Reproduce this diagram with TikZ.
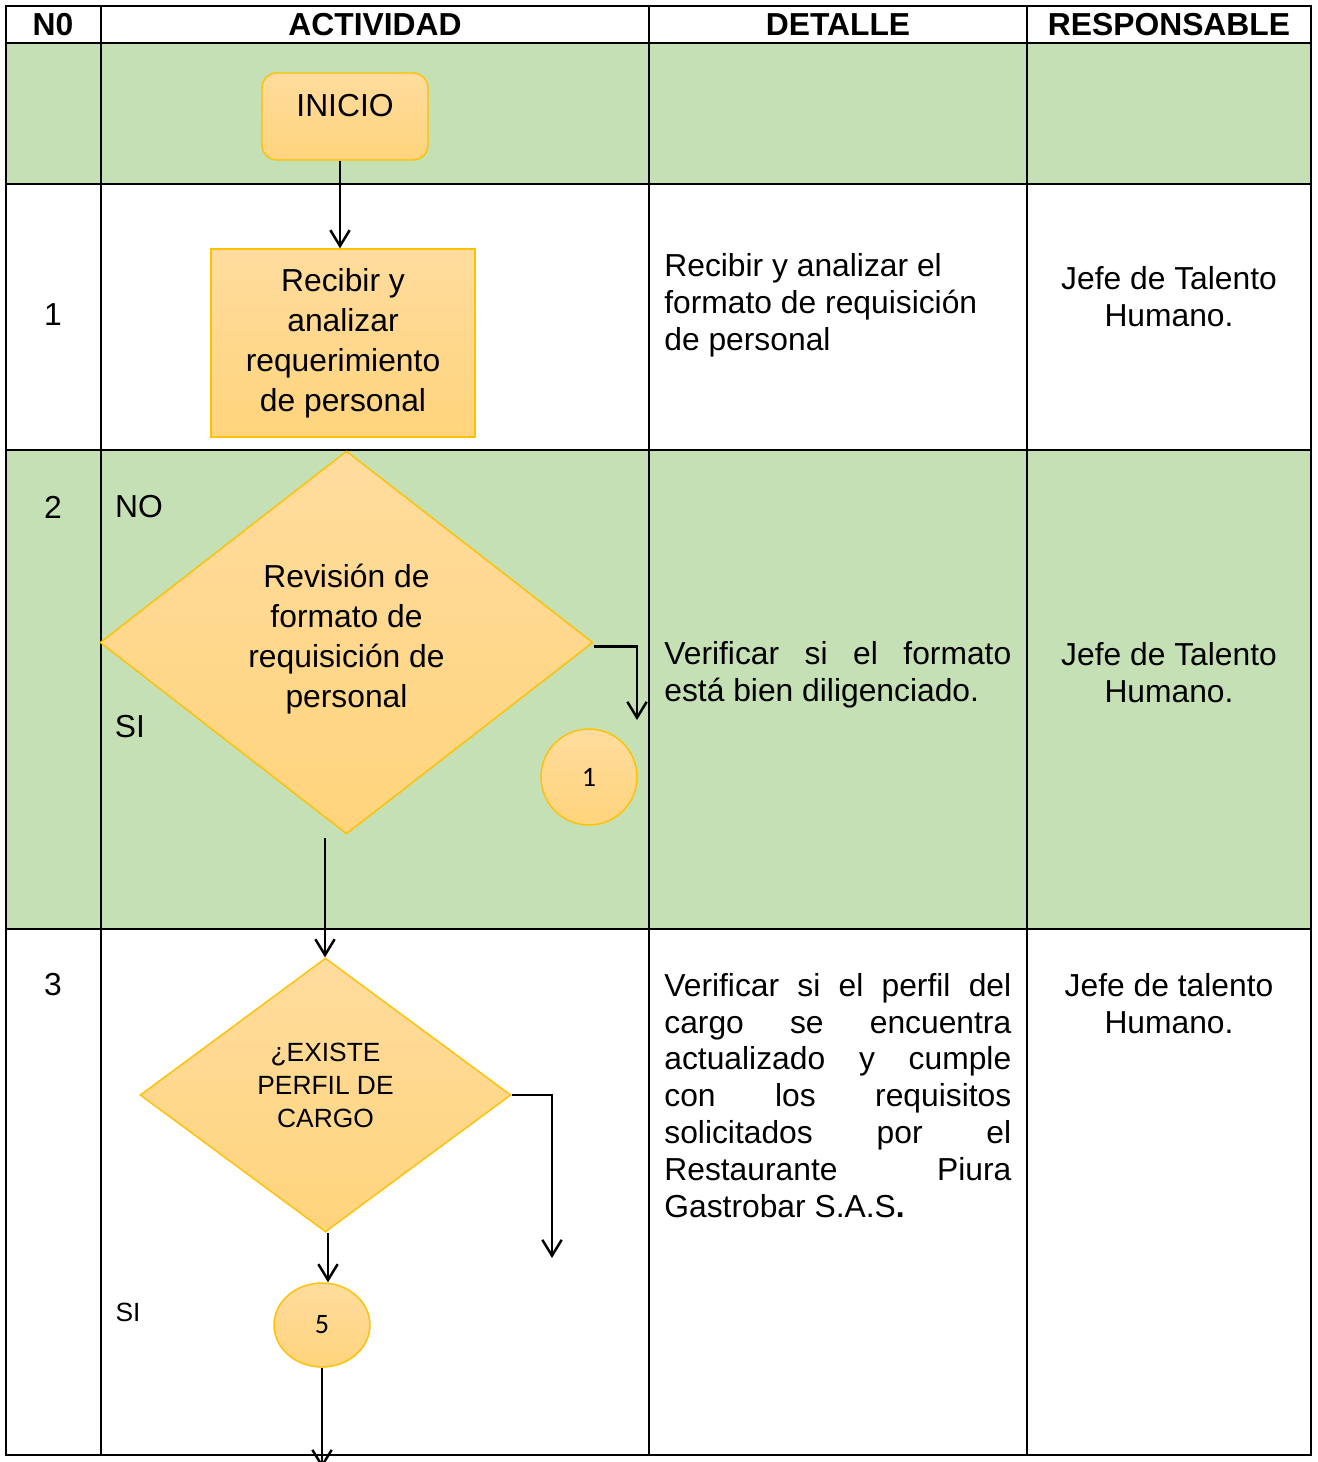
\documentclass[tikz,border=0pt]{standalone}
\usepackage{fontspec}
\setmainfont{Liberation Sans}
\newfontfamily\calib{Carlito}
\usetikzlibrary{shapes.geometric,arrows.meta}
\definecolor{grn}{HTML}{C5E0B4}
\definecolor{gold}{HTML}{FFC000}
\definecolor{ltop}{HTML}{FFDC9E}
\definecolor{lbot}{HTML}{FFD47C}
\begin{document}
\begin{tikzpicture}[x=0.02cm,y=-0.02cm,
  grid/.style={line width=1.3pt},
  shp/.style={draw=gold, line width=0.8pt, top color=ltop, bottom color=lbot, inner sep=0pt},
  arr/.style={line width=1.4pt,-{Straight Barb[length=9pt,width=11pt,line width=1.4pt]}},
  txt/.style={font=\fontsize{18.1}{21}\selectfont, inner sep=0pt},
  big/.style={font=\fontsize{18.1}{22.7}\selectfont, align=center, inner sep=0pt},
  hd/.style={font=\bfseries\fontsize{18.1}{21}\selectfont, inner sep=0pt},
  num/.style={font=\calib\fontsize{16}{18}\selectfont}]
\useasboundingbox (0,0) rectangle (1317,1462);
\fill[white] (0,0) rectangle (1317,1462);
\fill[grn] (6,43) rectangle (1311,184);
\fill[grn] (6,450) rectangle (1311,929);
\draw[grid] (6,6) rectangle (1311,1455);
\foreach \yy in {43,184,450,929} \draw[grid] (6,\yy) -- (1311,\yy);
\foreach \xx in {101,649,1027} \draw[grid] (\xx,6) -- (\xx,1455);

% header
\node[hd] (h0) at (53,25) {N0};
\node[hd] (h1) at (375,25) {ACTIVIDAD};
\node[hd] (h2) at (838,25) {DETALLE};
\node[hd] (h3) at (1169,25) {RESPONSABLE};

% numbers
\node[txt] (n1) at (53,315) {1};
\node[txt] (n2) at (53,507) {2};
\node[txt] (n3) at (53,985) {3};

% flow shapes
\node[shp, rounded corners=0.3cm, minimum width=3.32cm, minimum height=1.74cm,
      text height=0.45cm, text depth=0.45cm, font=\fontsize{18.1}{21}\selectfont] (inicio) at (345,116.5) {INICIO};
\node[shp, big, minimum width=5.28cm, minimum height=3.76cm] (box) at (343,343)
  {Recibir y\\analizar\\requerimiento\\de personal};
\node[shp, diamond, minimum width=9.86cm, minimum height=7.66cm] (d2) at (346.5,642.5) {};
\node[big] (d2t) at ([yshift=0.07cm]d2.center)
  {Revisión de\\formato de\\requisición de\\personal};
\node[shp, diamond, minimum width=7.42cm, minimum height=5.48cm] (d3) at (325.5,1095) {};
\node[align=center, inner sep=0pt, font=\fontsize{15}{18.7}\selectfont] (d3t) at ([yshift=0.19cm]d3.center)
  {¿EXISTE\\PERFIL DE\\CARGO};
\node[shp, num, circle, minimum size=1.92cm] (c1) at (589,777) {1};
\node[shp, num, ellipse, minimum width=1.92cm, minimum height=1.68cm] (c5) at (322,1325) {5};

% labels
\node[txt] (no) at (139,507) {NO};
\node[txt] (si1) at (130,727) {SI};
\node[txt, font=\fontsize{15}{18}\selectfont] (si2) at (128,1312) {SI};

% detail
\node[txt, anchor=west, align=left] (t1) at (664,305)
  {Recibir y analizar el\\formato de requisición\\de personal};
\node[txt, anchor=west, align=left] (t2) at (664,675)
  {\makebox[6.94cm][s]{Verificar si el formato}\\está bien diligenciado.};
\node[txt, anchor=west, align=left] (t3) at (664,1095.5)
  {\makebox[6.94cm][s]{Verificar si el perfil del}\\
   \makebox[6.94cm][s]{cargo se encuentra}\\
   \makebox[6.94cm][s]{actualizado y cumple}\\
   \makebox[6.94cm][s]{con los requisitos}\\
   \makebox[6.94cm][s]{solicitados por el}\\
   \makebox[6.94cm][s]{Restaurante Piura}\\
   Gastrobar S.A.S\textbf{.}};

% responsible
\node[txt, align=center] (r1) at (1169,297) {Jefe de Talento\\Humano.};
\node[txt, align=center] (r2) at (1169,672.5) {Jefe de Talento\\Humano.};
\node[txt, align=center] (r3) at (1169,1003.5) {Jefe de talento\\Humano.};

% connectors
\draw[arr] ([xshift=-0.1cm]inicio.south) -- ([xshift=-0.1cm]inicio.south |- box.north);
\coordinate (a2) at (325,838);
\draw[arr] (a2) -- (a2 |- d3.north);
\coordinate (e2) at (637,720);
\draw[arr] ([yshift=-0.08cm]d2.east) -| (e2);
\coordinate (e3) at (552,1258);
\draw[arr] (d3.east) -| (e3);
\draw[arr] ([xshift=0.05cm]d3.south) -- ([xshift=0.05cm]d3.south |- c5.north);
\coordinate (e5) at (322,1468);
\draw[arr] (c5.south) -- (e5);
\end{tikzpicture}
\end{document}
